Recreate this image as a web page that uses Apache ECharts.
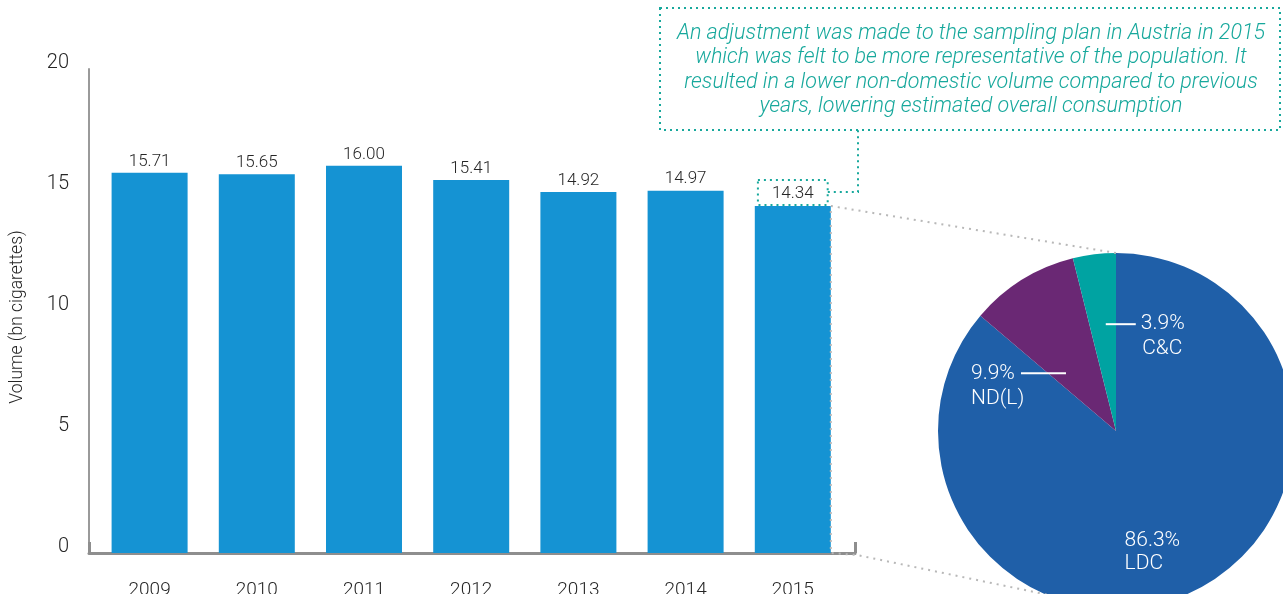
<!DOCTYPE html>
<html>
<head>
<meta charset="utf-8">
<script src="https://cdn.jsdelivr.net/npm/echarts@6/dist/echarts.min.js"></script>
<style>
  html, body { margin: 0; padding: 0; background: #ffffff; }
  #chart { width: 1283px; height: 594px; }
</style>
</head>
<body>
<div id="chart"></div>
<script>
// Annual consumption volume (bn cigarettes)
const years = ['2009', '2010', '2011', '2012', '2013', '2014', '2015'];
const volumes = [15.71, 15.65, 16.00, 15.41, 14.92, 14.97, 14.34];
const yTickStep = 5;
const yMax = 20;

// 2015 split of consumption (%)
const shareNames = ['LDC', 'ND(L)', 'C&C'];
const shareValues = [86.3, 9.9, 3.9];

const noteLines = [
  'An adjustment was made to the sampling plan in Austria in 2015',
  'which was felt to be more representative of the population. It',
  'resulted in a lower non-domestic volume compared to previous',
  'years, lowering estimated overall consumption'
];

const FONT = "Roboto, 'Liberation Sans', sans-serif";
const W = 300;
const INK = '#262626';
const BAR_COLOR = '#1593d3';
const TEAL = '#17a89c';
const AXIS_GREY = '#8e8e8e';
const DOT_GREY = '#b8b8b8';
const SHARE_COLORS = ['#1f5fa8', '#6a2874', '#00a3a2'];

const PIE_CX = 1116, PIE_CY = 431, PIE_R = 178;
const BAR_WIDTH = 76;

const chart = echarts.init(document.getElementById('chart'), null, { renderer: 'canvas' });

// label layouts for the three pie slices (rich tokens keep lines left-aligned)
const pieText = { color: '#fff', fontSize: 21, fontFamily: FONT, fontWeight: W, lineHeight: 25, align: 'left' };
const pieLabelRich = {
  ln: { width: 30, height: 2, backgroundColor: '#ffffff' },
  lnL: { width: 45, height: 2, backgroundColor: '#ffffff' },
  g: { width: 4 },
  sp: { width: 33 },
  spL: { width: 49 },
  v: Object.assign({ width: 46 }, pieText),
  n: Object.assign({ width: 46 }, pieText),
  vL: Object.assign({ width: 54 }, pieText, { lineHeight: 23 })
};

function pieLabelText(p) {
  const pct = p.value.toFixed(1) + '%';
  if (p.name === 'C&C') return '{ln|}{g|}{v|' + pct + '}\n{sp|}{n|' + p.name + '}';
  if (p.name === 'ND(L)') return '{v|' + pct + '}{g|}{lnL|}\n{n|' + p.name + '}{spL|}';
  return '{vL|' + pct + '}\n{vL|' + p.name + '}';
}

const pieOffsets = { 'LDC': [-3, 38], 'ND(L)': [-49, 33], 'C&C': [41, -3] };

const barData = volumes.map(function (v, i) {
  if (years[i] !== '2015') return v;
  return {
    value: v,
    label: {
      borderColor: TEAL,
      borderWidth: 2,
      borderType: [2, 4],
      padding: [5, 14, 3, 14],
      distance: 1
    }
  };
});

const option = {
  animation: false,
  backgroundColor: '#ffffff',
  grid: [
    { left: 96, width: 750.4, top: 69, bottom: 41, containLabel: false, outerBoundsMode: 'none' },
    { left: 89, width: 766, top: 69, bottom: 41, containLabel: false, outerBoundsMode: 'none' }
  ],
  xAxis: [
    {
      type: 'category',
      data: years,
      gridIndex: 0,
      axisLine: { show: false },
      axisTick: { show: false },
      axisLabel: { color: INK, fontSize: 19, fontFamily: FONT, fontWeight: W, margin: 28 }
    },
    {
      type: 'value',
      gridIndex: 1,
      min: 0, max: 1, interval: 1,
      axisLine: { show: true, lineStyle: { color: AXIS_GREY, width: 3 } },
      axisTick: { show: true, inside: true, length: 11, lineStyle: { color: AXIS_GREY, width: 3 } },
      axisLabel: { show: false },
      splitLine: { show: false }
    }
  ],
  yAxis: [
    {
      type: 'value',
      gridIndex: 0,
      min: 0, max: yMax, interval: yTickStep,
      offset: 7,
      name: 'Volume (bn cigarettes)',
      nameLocation: 'middle',
      nameGap: 62,
      nameTextStyle: { color: INK, fontSize: 17.5, fontFamily: FONT, fontWeight: W, padding: [0, 12, 0, 0] },
      axisLine: { show: true, lineStyle: { color: '#9a9a9a', width: 2 } },
      axisTick: { show: false },
      splitLine: { show: false },
      axisLabel: {
        color: INK, fontSize: 20, fontFamily: FONT, fontWeight: W, margin: 20,
        verticalAlign: 'bottom', lineHeight: 12
      }
    },
    {
      type: 'value',
      gridIndex: 1,
      min: 0, max: 1,
      show: false
    }
  ],
  series: [
    {
      type: 'bar',
      xAxisIndex: 0,
      yAxisIndex: 0,
      data: barData,
      barWidth: BAR_WIDTH,
      itemStyle: { color: BAR_COLOR },
      label: {
        show: true,
        position: 'top',
        distance: 3,
        color: INK,
        fontSize: 17,
        fontFamily: FONT,
        fontWeight: W,
        formatter: function (p) { return p.value.toFixed(2); }
      },
      z: 2
    },
    {
      type: 'pie',
      center: [PIE_CX, PIE_CY],
      radius: PIE_R,
      startAngle: 90,
      clockwise: true,
      silent: true,
      data: shareNames.map(function (n, i) {
        return {
          name: n,
          value: shareValues[i],
          itemStyle: { color: SHARE_COLORS[i] },
          label: { offset: pieOffsets[n] }
        };
      }),
      label: {
        show: true,
        position: 'inside',
        formatter: pieLabelText,
        rich: pieLabelRich,
        color: '#fff',
        fontSize: 21,
        fontFamily: FONT,
        fontWeight: W
      },
      labelLine: { show: false },
      itemStyle: { borderWidth: 0 },
      emphasis: { disabled: true },
      z: 1
    }
  ]
};

chart.setOption(option);

// Leader lines and the note box, placed from the axis scales
const lastIdx = years.length - 1;
const topPt = chart.convertToPixel({ xAxisIndex: 0, yAxisIndex: 0 }, [years[lastIdx], volumes[lastIdx]]);
const basePt = chart.convertToPixel({ xAxisIndex: 0, yAxisIndex: 0 }, [years[lastIdx], 0]);
const axisEnd = chart.convertToPixel({ xAxisIndex: 1, yAxisIndex: 1 }, [1, 0]);
const barRight = topPt[0] + BAR_WIDTH / 2;
const labelMidY = topPt[1] - 1 - 13;
const labelRight = topPt[0] + 35;

const box = { x: 660, y: 8, w: 620, h: 122 };

chart.setOption({
  graphic: [
    {
      type: 'polyline',
      z: 10,
      shape: {
        points: [
          [PIE_CX, PIE_CY - PIE_R],
          [barRight, topPt[1]],
          [barRight, basePt[1]],
          [axisEnd[0] + 2, basePt[1] + 2],
          [PIE_CX, PIE_CY + PIE_R]
        ]
      },
      style: { stroke: DOT_GREY, lineWidth: 2, lineDash: [2, 5], fill: null }
    },
    {
      type: 'polyline',
      z: 11,
      shape: {
        points: [
          [labelRight, labelMidY],
          [axisEnd[0] + 3, labelMidY],
          [axisEnd[0] + 3, box.y + box.h]
        ]
      },
      style: { stroke: TEAL, lineWidth: 2, lineDash: [2, 4], fill: null }
    },
    {
      type: 'rect',
      z: 11,
      shape: { x: box.x, y: box.y, width: box.w, height: box.h },
      style: { stroke: TEAL, lineWidth: 2, lineDash: [2, 4], fill: '#ffffff' }
    },
    {
      type: 'text',
      z: 12,
      style: {
        x: box.x + box.w / 2 + 1,
        y: box.y + box.h / 2 + 1,
        text: noteLines.join('\n'),
        align: 'center',
        verticalAlign: 'middle',
        fill: TEAL,
        font: 'italic 300 21.5px Roboto, sans-serif',
        lineHeight: 24.5
      }
    }
  ]
});
</script>
</body>
</html>
